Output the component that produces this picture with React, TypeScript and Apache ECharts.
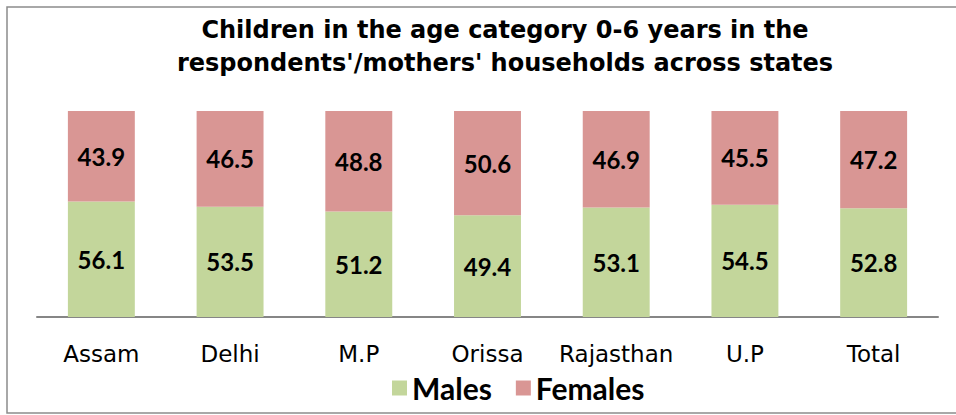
import React, { useEffect, useRef } from "react";
import * as echarts from "echarts";

const categories = ["Assam", "Delhi", "M.P", "Orissa", "Rajasthan", "U.P", "Total"];
const males = [56.1, 53.5, 51.2, 49.4, 53.1, 54.5, 52.8];
const females = [43.9, 46.5, 48.8, 50.6, 46.9, 45.5, 47.2];
const titleText = "Children in the age category 0-6 years in the\nrespondents'/mothers' households across states";

export default function App() {
  const ref = useRef<HTMLDivElement>(null);
  useEffect(() => {
    if (!ref.current) return;
    const chart = echarts.init(ref.current, null, { renderer: "svg" });
    const labelStyle = {
      show: true,
      position: "inside" as const,
      fontFamily: "Lato",
      fontWeight: "bold" as const,
      fontSize: 24,
      color: "#000",
      formatter: (p: any) => Number(p.value).toFixed(1),
    };
    chart.setOption({
      animation: false,
      backgroundColor: "#fff",
      graphic: [
        {
          type: "rect",
          shape: { x: 7, y: 7, width: 960, height: 406 },
          style: { fill: "none", stroke: "#8c8c8c", lineWidth: 1.5 },
          silent: true,
        },
      ],
      title: {
        text: titleText,
        left: 500,
        textAlign: "center",
        top: 8,
        textStyle: {
          fontFamily: "DejaVu Sans",
          fontWeight: "bold",
          fontSize: 24,
          lineHeight: 33,
          color: "#000",
        },
      },
      legend: {
        bottom: 7,
        left: 387,
        itemWidth: 15,
        itemHeight: 15,
        itemGap: 24,
        icon: "rect",
        textStyle: {
          fontFamily: "Lato",
          fontWeight: "bold",
          fontSize: 30,
          color: "#000",
        },
        data: ["Males", "Females"],
      },
      grid: { left: 37, right: 18, top: 111, bottom: 98, containLabel: false },
      xAxis: {
        type: "category",
        data: categories,
        axisLine: { lineStyle: { color: "#868686", width: 2 } },
        axisTick: { show: false },
        axisLabel: {
          interval: 0,
          fontFamily: "DejaVu Sans",
          fontSize: 23,
          color: "#000",
          margin: 25,
        },
      },
      yAxis: {
        type: "value",
        min: 0,
        max: 100,
        show: false,
        splitLine: { show: false },
      },
      series: [
        {
          name: "Males",
          type: "bar",
          stack: "total",
          data: males,
          barWidth: "52%",
          itemStyle: { color: "#C3D69B" },
          label: labelStyle,
        },
        {
          name: "Females",
          type: "bar",
          stack: "total",
          data: females,
          barWidth: "52%",
          itemStyle: { color: "#D99694" },
          label: labelStyle,
        },
      ],
    });
    return () => chart.dispose();
  }, []);
  return (
    <div
      ref={ref}
      style={{ position: "absolute", left: 0, top: 0, width: 956, height: 415 }}
    />
  );
}
